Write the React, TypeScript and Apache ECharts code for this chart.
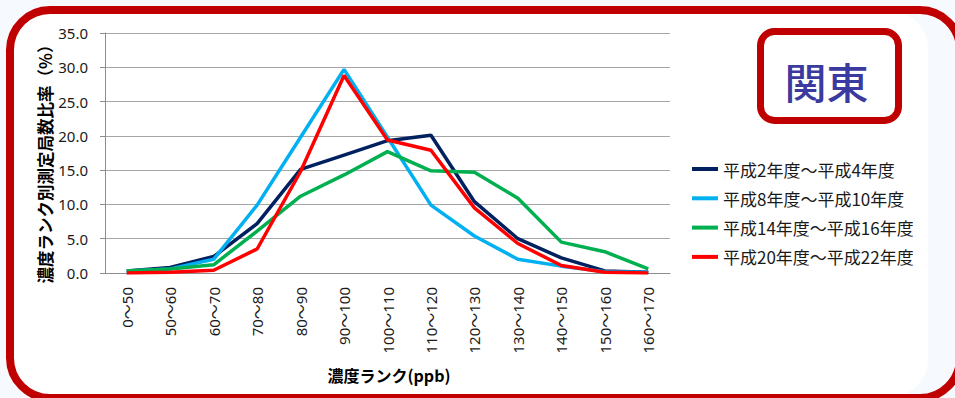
import React, { useEffect, useRef } from "react";
import * as echarts from "echarts";

// Concentration ranks (ppb)
const categories = [
  "0～50", "50～60", "60～70", "70～80", "80～90", "90～100", "100～110",
  "110～120", "120～130", "130～140", "140～150", "150～160", "160～170",
];

// Share of monitoring stations per rank (%)
const h2to4 = [0.3, 0.8, 2.4, 7.2, 15.1, 17.2, 19.3, 20.1, 10.4, 5.0, 2.2, 0.3, 0.1];
const h8to10 = [0.3, 0.6, 2.0, 9.9, 19.8, 29.7, 19.8, 9.9, 5.4, 2.0, 1.0, 0.2, 0.1];
const h14to16 = [0.3, 0.6, 1.2, 6.1, 11.2, 14.3, 17.7, 14.9, 14.7, 10.9, 4.5, 3.1, 0.6];
const h20to22 = [0.0, 0.1, 0.4, 3.5, 14.8, 28.8, 19.4, 17.9, 9.5, 4.3, 1.1, 0.1, 0.0];

const seriesNames = [
  "平成2年度～平成4年度",
  "平成8年度～平成10年度",
  "平成14年度～平成16年度",
  "平成20年度～平成22年度",
];
const seriesData = [h2to4, h8to10, h14to16, h20to22];
const seriesColors = ["#002060", "#00B0F0", "#00B050", "#FF0000"];

const yTicks = { min: 0, max: 35, interval: 5 };

const CJK = '"Noto Sans CJK JP", "Noto Sans", sans-serif';
const LATIN = '"Noto Sans", "Noto Sans CJK JP", sans-serif';

export default function App() {
  const ref = useRef<HTMLDivElement>(null);

  useEffect(() => {
    if (!ref.current) return;
    const chart = echarts.init(ref.current, undefined, { renderer: "svg" });
    chart.setOption({
      animation: false,
      backgroundColor: "transparent",
      grid: { left: 105, right: 285, top: 33, bottom: 125, containLabel: false },
      legend: {
        orient: "vertical",
        left: 687,
        top: 154,
        itemWidth: 26,
        itemHeight: 4,
        itemGap: 9.3,
        icon: "rect",
        data: seriesNames,
        textStyle: { fontSize: 17, lineHeight: 20, color: "#1a1a1a", fontFamily: CJK },
      },
      xAxis: {
        type: "category",
        data: categories,
        boundaryGap: true,
        axisLine: { lineStyle: { color: "#8c8c8c", width: 1 } },
        axisTick: { alignWithLabel: false, length: 6, lineStyle: { color: "#8c8c8c" } },
        axisLabel: {
          rotate: 90,
          margin: 14,
          interval: 0,
          fontSize: 15,
          color: "#1a1a1a",
          fontFamily: LATIN,
        },
      },
      yAxis: {
        type: "value",
        min: yTicks.min,
        max: yTicks.max,
        interval: yTicks.interval,
        axisLine: { show: true, lineStyle: { color: "#8c8c8c", width: 1 } },
        axisTick: { show: true, length: 5, lineStyle: { color: "#8c8c8c" } },
        axisLabel: {
          margin: 17,
          fontSize: 15,
          color: "#1a1a1a",
          fontFamily: LATIN,
          formatter: (v: number) => v.toFixed(1),
        },
        splitLine: { lineStyle: { color: "#a6a6a6", width: 1 } },
      },
      series: seriesNames.map((name, i) => ({
        name,
        type: "line",
        data: seriesData[i],
        symbol: "none",
        color: seriesColors[i],
        lineStyle: { width: 3.5, color: seriesColors[i] },
      })),
      graphic: [
        {
          type: "rect",
          z: -10,
          shape: { x: 12, y: 12, width: 916, height: 384, r: 36 },
          style: { fill: "#ffffff" },
        },
        {
          type: "rect",
          z: 100,
          shape: { x: 10, y: 10, width: 950, height: 388, r: 40 },
          style: { fill: "transparent", stroke: "#C00000", lineWidth: 8 },
        },
        {
          type: "rect",
          z: 100,
          shape: { x: 760.5, y: 31.5, width: 138, height: 89, r: 14 },
          style: { fill: "transparent", stroke: "#C00000", lineWidth: 7 },
        },
        {
          type: "text",
          z: 100,
          x: 826.5,
          y: 80,
          style: {
            text: "関東",
            fontSize: 42,
            fontWeight: 500,
            fontFamily: CJK,
            fill: "#3A3AA0",
            align: "center",
            verticalAlign: "middle",
          },
        },
        {
          type: "text",
          z: 100,
          x: 45,
          y: 160,
          rotation: Math.PI / 2,
          style: {
            text: "濃度ランク別測定局数比率（%）",
            fontSize: 16.5,
            fontWeight: "bold",
            fontFamily: CJK,
            fill: "#000000",
            align: "center",
            verticalAlign: "middle",
          },
        },
        {
          type: "text",
          z: 100,
          x: 389,
          y: 375,
          style: {
            text: "濃度ランク(ppb)",
            fontSize: 16,
            fontWeight: "bold",
            fontFamily: CJK,
            fill: "#000000",
            align: "center",
            verticalAlign: "middle",
          },
        },
      ],
    });
    return () => chart.dispose();
  }, []);

  return (
    <div
      style={{
        position: "fixed",
        left: 0,
        top: 0,
        width: 955,
        height: 398,
        background: "#F6F9FD",
        overflow: "hidden",
      }}
    >
      <div ref={ref} style={{ width: 955, height: 398 }} />
    </div>
  );
}
